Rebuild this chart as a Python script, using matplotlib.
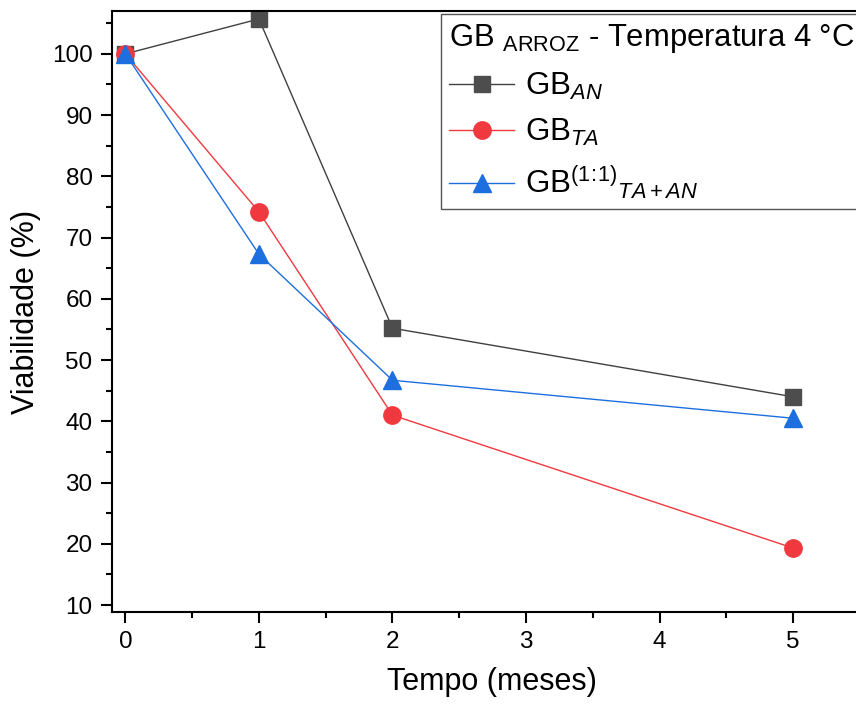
import numpy as np
import matplotlib
matplotlib.use('Agg')
import matplotlib.pyplot as plt
from matplotlib.ticker import MultipleLocator

plt.rcParams['font.family'] = ['Liberation Sans', 'DejaVu Sans']
plt.rcParams['mathtext.fontset'] = 'custom'
plt.rcParams['mathtext.rm'] = 'Liberation Sans'
plt.rcParams['mathtext.it'] = 'Liberation Sans:italic'

# data
tempo = [0, 1, 2, 5]
gb_an = [100, 105.7, 55.2, 44.0]
gb_ta = [100, 74.2, 41.0, 19.3]
gb_ta_an = [100, 67.3, 46.7, 40.5]

fig = plt.figure(figsize=(8.56, 7.08), dpi=100)
ax = fig.add_axes([112/856, 1 - 612/708, 760/856, 601/708])

ax.plot(tempo, gb_an, color='#404040', lw=1, marker='s', ms=11,
        mfc='#4d4d4d', mec='#4d4d4d', label=r'GB$_{\mathit{AN}}$')
ax.plot(tempo, gb_ta, color='#f0393f', lw=1, marker='o', ms=12.5,
        mfc='#f0393f', mec='#f0393f', label=r'GB$_{\mathit{TA}}$')
ax.plot(tempo, gb_ta_an, color='#1d6fe0', lw=1, marker='^', ms=13.5,
        mfc='#1d6fe0', mec='#1d6fe0', label=r'GB$^{\mathrm{(1\!:\!1)}}$$_{\mathit{TA+AN}}$')

ax.set_xlim(-0.1, 5.59)
ax.set_ylim(8.86, 107)
ax.xaxis.set_major_locator(MultipleLocator(1))
ax.xaxis.set_minor_locator(MultipleLocator(0.5))
ax.yaxis.set_major_locator(MultipleLocator(10))
ax.yaxis.set_minor_locator(MultipleLocator(5))
ax.tick_params(which='major', direction='out', length=8, width=1.5, labelsize=17.5, pad=6)
ax.tick_params(which='minor', direction='out', length=4, width=1.5)
for s in ax.spines.values():
    s.set_linewidth(1.5)

ax.set_xlabel('Tempo (meses)', fontsize=22, labelpad=10)
ax.set_ylabel('Viabilidade (%)', fontsize=22, labelpad=8)

leg = ax.legend(loc='upper left', bbox_to_anchor=(441/856, 1 - 14/708),
                bbox_transform=fig.transFigure, fontsize=22.5,
                title=r'GB $_{\mathrm{ARROZ}}$ - Temperatura 4 °C', title_fontsize=22.3,
                frameon=True, fancybox=False, edgecolor='#555555', framealpha=1,
                borderpad=0.25, labelspacing=0.5, handlelength=2.1, handletextpad=0.35,
                borderaxespad=0)
leg._legend_box.align = 'left'
leg.get_frame().set_linewidth(1)

plt.savefig('out.png', dpi=100)
